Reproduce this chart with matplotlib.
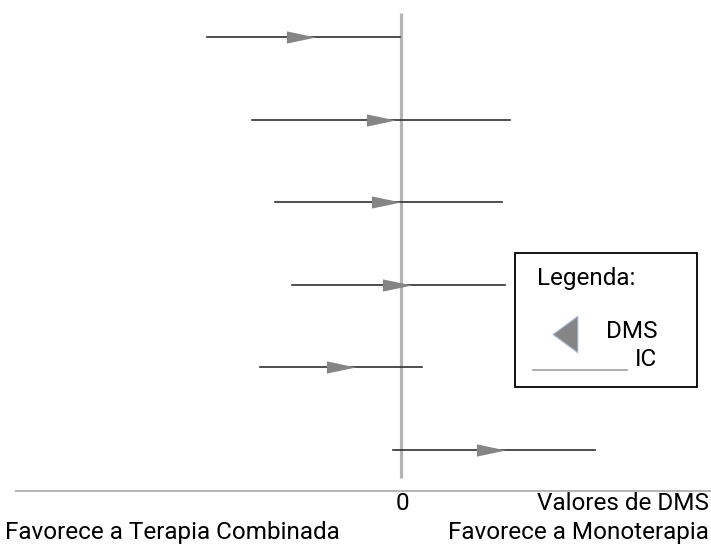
import numpy as np
import matplotlib
matplotlib.use("Agg")
import matplotlib.pyplot as plt
from matplotlib.patches import Rectangle
from matplotlib.lines import Line2D

# Dados do gráfico de floresta (DMS e intervalos de confiança)
estudos = [1, 2, 3, 4, 5, 6]
dms = [-0.50, -0.10, -0.075, -0.02, -0.30, 0.45]
ic_inf = [-0.97, -0.745, -0.63, -0.545, -0.705, -0.04]
ic_sup = [-0.005, 0.545, 0.505, 0.52, 0.105, 0.97]

W, H = 711, 545
plt.rcParams['font.family'] = ['Roboto', 'DejaVu Sans']

fig = plt.figure(figsize=(W / 100, H / 100), dpi=100)
ax = fig.add_axes([0, 0, 1, 1])
ax.set_xlim((0 - 401) / 200, (W - 401) / 200)
ax.set_ylim(1 + (H - 37) / 82.6, 1 - 37 / 82.6)
ax.axis('off')


def px(x, y):
    return x / W, 1 - y / H


# linha vertical em zero
ax.plot([0, 0], [1 + (13 - 37) / 82.6, 1 + (478 - 37) / 82.6],
        color='#b4b4b4', lw=2.3, solid_capstyle='butt', zorder=1)

# marcador triangular alongado
tri = [(-1, -0.42), (1, 0), (-1, 0.42), (-1, -0.42)]
for k in range(len(estudos)):
    ax.plot([ic_inf[k], ic_sup[k]], [estudos[k], estudos[k]],
            color='#303030', lw=1.2, zorder=2)
    ax.plot(dms[k], estudos[k], marker=tri, markersize=21,
            color='#858585', markeredgewidth=0, zorder=3)

# eixo inferior
fig.add_artist(Line2D([16 / W, 1], [1 - 491 / H] * 2, color='#b4b4b4', lw=1.4))

fs = 17.5
fig.text(*px(402, 503), '0', ha='center', va='center', fontsize=fs)
fig.text(*px(709, 503), 'Valores de DMS', ha='right', va='center', fontsize=fs)
fig.text(*px(5, 532), 'Favorece a Terapia Combinada', ha='left', va='center', fontsize=fs)
fig.text(*px(709, 532), 'Favorece a Monoterapia', ha='right', va='center', fontsize=fs)

# legenda desenhada à mão
fig.add_artist(Rectangle(px(515, 387), 182 / W, 134 / H, fill=False,
                         edgecolor='black', lw=1.3))
fig.text(*px(537, 279), 'Legenda:', ha='left', va='center', fontsize=fs)
tri_esq = [(0.68, -1), (-0.68, 0), (0.68, 1), (0.68, -1)]
fig.add_artist(Line2D([565 / W], [1 - 334 / H], marker=tri_esq, markersize=26,
                      color='#858585', markeredgecolor='#9fb0d0', markeredgewidth=0.8))
fig.text(*px(658, 331), 'DMS', ha='right', va='center', fontsize=fs)
fig.add_artist(Line2D([533 / W, 627 / W], [1 - 370 / H] * 2, color='#a0a0a0', lw=1.2))
fig.text(*px(657, 359), 'IC', ha='right', va='center', fontsize=fs)

fig.savefig('out.png', dpi=100)
